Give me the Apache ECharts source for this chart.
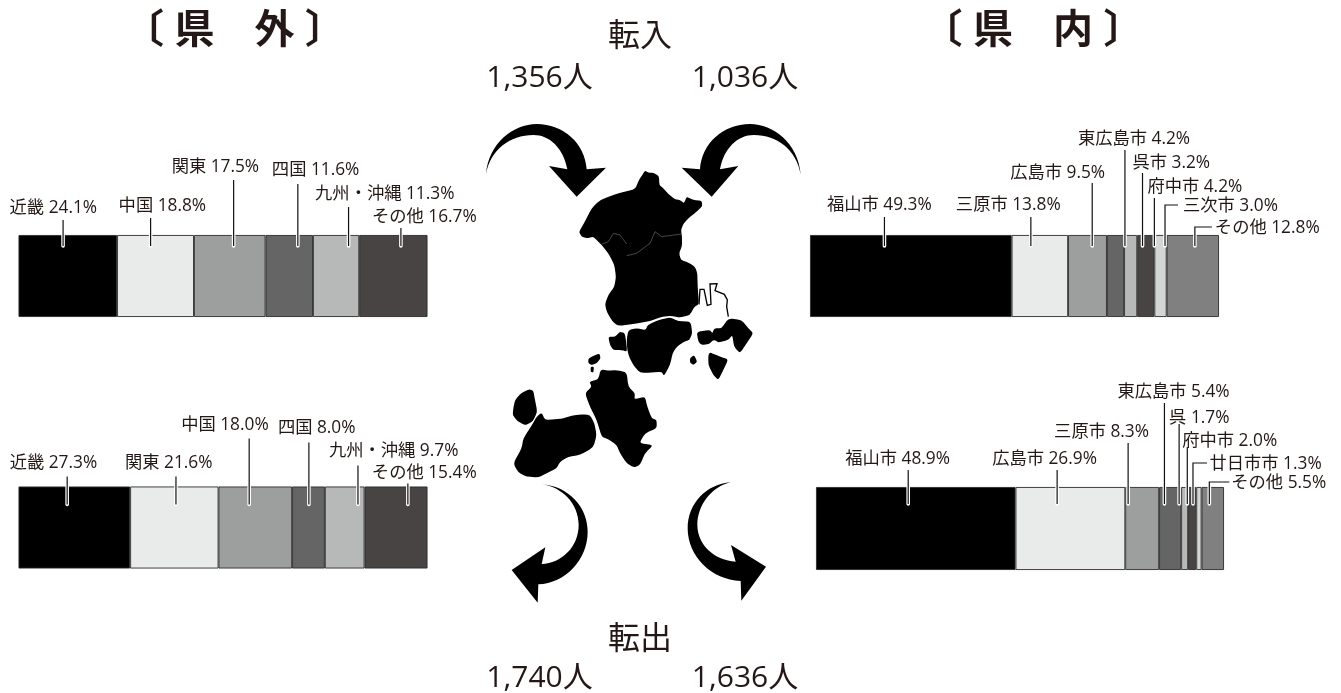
<!DOCTYPE html>
<html><head><meta charset="utf-8">
<style>html,body{margin:0;padding:0;background:#fff}#c{width:1341px;height:693px}</style>
<script src="https://cdn.jsdelivr.net/npm/echarts@6/dist/echarts.min.js"></script>
</head><body><div id="c"></div>
<script>
// ---------- data ----------
const inOutsideCats = ['近畿','中国','関東','四国','九州・沖縄','その他'];
const inOutsideVals = [24.1,18.8,17.5,11.6,11.3,16.7];
const outOutsideCats = ['近畿','関東','中国','四国','九州・沖縄','その他'];
const outOutsideVals = [27.3,21.6,18.0,8.0,9.7,15.4];
const inInsideCats = ['福山市','三原市','広島市','東広島市','呉市','府中市','三次市','その他'];
const inInsideVals = [49.3,13.8,9.5,4.2,3.2,4.2,3.0,12.8];
const outInsideCats = ['福山市','広島市','三原市','東広島市','呉','府中市','廿日市市','その他'];
const outInsideVals = [48.9,26.9,8.3,5.4,1.7,2.0,1.3,5.5];
const moveInTotals = ['1,356人','1,036人'];
const moveOutTotals = ['1,740人','1,636人'];

// ---------- layout / style (annotation placement, separate from data) ----------
const FONT = '"Open Sans","Noto Sans CJK JP",sans-serif';
const INK = '#231815';
const outsideGreys = ['#000000','#e9ebea','#9d9f9e','#656565','#b7b9b8','#474443'];
const insideGreys = ['#000000','#e9ebea','#9d9f9e','#656565','#b7b9b8','#474443','#d4d5d5','#808080'];
// at: leader position along the axis; tx: label left relative to leader;
// ty: label centre above bar top; lt: leader top above bar top; ex: elbow length
const panels = [
 {cats:inOutsideCats, vals:inOutsideVals, greys:outsideGreys, left:18.5, top:235, w:409, h:82, into:11, call:[
  {at:10.9,tx:-53.5,ty:28,lt:15},{at:32.3,tx:-32,ty:30,lt:17},{at:52.6,tx:-62,ty:69,lt:55},
  {at:68.3,tx:-26,ty:66,lt:51},{at:80.7,tx:-33.5,ty:42,lt:28},{at:93.5,tx:-29,ty:19,lt:7}]},
 {cats:outOutsideCats, vals:outOutsideVals, greys:outsideGreys, left:18.5, top:486.5, w:409, h:82, into:18, call:[
  {at:11.9,tx:-57.5,ty:24,lt:10},{at:38.5,tx:-51,ty:24,lt:10},{at:56.4,tx:-68,ty:62,lt:48},
  {at:71.0,tx:-31,ty:59,lt:44},{at:83,tx:-29,ty:36,lt:21},{at:95.2,tx:-36,ty:14,lt:3}]},
 {cats:inInsideCats, vals:inInsideVals, greys:insideGreys, left:810, top:235, w:409, h:82, into:11, call:[
  {at:18.2,tx:-57.5,ty:31,lt:18},{at:54.0,tx:-75,ty:31,lt:18},{at:69.0,tx:-82,ty:63,lt:52},
  {at:77.0,tx:-47,ty:97,lt:85},{at:81.3,tx:-10,ty:73,lt:62},{at:84.2,tx:-7,ty:49,lt:37},
  {at:86.8,ty:30,lt:30,ex:13,tx:18},{at:94.1,ty:8,lt:8,ex:17,tx:20}]},
 {cats:outInsideCats, vals:outInsideVals, greys:insideGreys, left:816, top:487, w:408, h:83, into:17, call:[
  {at:22.6,tx:-63,ty:29,lt:17},{at:59.1,tx:-65,ty:29,lt:17},{at:76.5,tx:-74,ty:56,lt:44},
  {at:85.4,tx:-47,ty:96,lt:84},{at:89.0,tx:-10,ty:70,lt:63},{at:91.0,tx:-5,ty:47,lt:40},
  {at:92.4,ty:24,lt:24,ex:14,tx:16.5},{at:96.4,ty:5,lt:5,ex:20,tx:22}]}
];

// ---------- silhouettes (decoration, zoom-crop coordinates, scale 1/3) ----------
const mapUpper = [
 [[495,152],[505,158],[520,158],[537,168],[538,195],[550,205],[565,222],[585,238],[600,240],[612,250],[620,230],[640,240],[665,242],[667,258],[650,275],[625,295],[610,312],[603,330],[606,350],[606,378],[597,400],[603,420],[625,428],[645,440],[652,460],[653,500],[657,553],[643,560],[630,585],[600,593],[570,587],[540,592],[510,603],[470,610],[415,618],[398,605],[380,575],[375,552],[385,525],[403,500],[408,470],[403,435],[388,405],[368,378],[340,350],[322,355],[305,350],[297,335],[312,310],[335,265],[360,240],[420,218],[465,208],[478,178],[490,160]],
 [[445,630],[470,625],[497,630],[503,615],[535,600],[570,592],[595,603],[632,605],[637,640],[628,660],[612,665],[590,680],[578,700],[570,735],[552,768],[545,755],[515,758],[480,758],[462,738],[448,712],[442,690],[440,660]],
 [[385,650],[405,650],[420,635],[435,640],[442,695],[425,690],[400,690],[390,675]],
 [[650,635],[690,630],[697,640],[703,625],[725,625],[745,595],[785,600],[805,625],[820,640],[800,670],[780,700],[762,680],[757,645],[745,660],[715,668],[705,660],[697,662],[688,672],[665,675],[655,665]],
 [[630,715],[642,705],[652,725],[640,735],[630,728]],
 [[685,705],[690,697],[720,710],[745,718],[730,750],[715,780],[700,765],[685,735]],
 [[325,715],[358,700],[362,715],[350,730],[335,735],[325,730]],
 [[332,740],[342,740],[340,758],[332,755]]
];
const mapLower = [
 [[362,58],[385,62],[410,60],[440,68],[445,110],[465,130],[463,148],[495,140],[502,170],[515,205],[530,210],[530,235],[495,250],[478,280],[520,285],[495,310],[480,345],[462,352],[440,340],[420,310],[410,285],[385,268],[365,260],[350,210],[330,170],[315,130],[335,110],[328,95],[355,88]],
 [[100,175],[105,150],[125,128],[148,118],[160,122],[165,150],[172,185],[158,215],[135,226],[112,213],[98,195]],
 [[158,222],[170,200],[185,188],[195,210],[225,208],[250,205],[275,197],[305,193],[330,195],[343,220],[350,255],[340,292],[300,315],[265,320],[240,335],[230,355],[200,370],[175,382],[140,380],[115,368],[100,340],[125,295],[130,265]]
];
// Lightly rounded closed outline: corners eased over 30% of each adjoining edge.
const toPath = pts => {
  const lerp=(a,b,t)=>[a[0]+(b[0]-a[0])*t,a[1]+(b[1]-a[1])*t];
  const n=pts.length; let d='';
  pts.forEach((p,i)=>{
    const a=lerp(p,pts[(i-1+n)%n],0.3), b=lerp(p,pts[(i+1)%n],0.3);
    d+=(i?'L':'M')+a.join(' ')+'Q'+p.join(' ')+' '+b.join(' ');
  });
  return d+'Z';
};
const toLine = pts => 'M' + pts.map(p => p.join(' ')).join('L');
const arrowsUpper = [
 'M18 163C25 70 100 12 170 12C250 12 315 70 320 148L378 143L290 230L207 138L262 148C250 85 210 45 160 45C90 45 30 90 18 163Z',
 'M962 163C955 70 880 12 810 12C730 12 665 70 660 148L605 143L695 230L775 138L720 148C732 85 772 45 822 45C892 45 950 90 962 163Z'
];
const arrowsLower = [
 'M188 403C265 410 323 470 323 545C323 630 255 700 175 703L173 758L95 660L196 592L185 642C245 640 296 590 296 525C296 460 245 412 188 403Z',
 'M752 397C680 402 623 460 623 535C623 620 695 690 782 693L784 752L858 650L753 585L767 635C705 632 652 585 652 525C652 465 695 410 752 397Z'
];
const innerBorders = [
 [[365,373],[385,365],[400,340],[420,345],[440,372]],
 [[440,407],[470,400],[510,370],[525,335],[545,350],[605,342]]
];
const whiteCityOutline = [[657,553],[660,508],[672,508],[682,556],[693,553],[690,492],[711,491],[705,512],[733,523],[742,540],[740,560],[745,590]];

function shape(d, fill, stroke, lw){
  return {type:'path', shape:{pathData:d}, style:{fill:fill, stroke:stroke||null, lineWidth:lw||0}};
}
function silhouettes(){
  return {type:'group', children:[
   {type:'group', x:480, y:120, scaleX:1/3, scaleY:1/3, children:[
     ...mapUpper.map(p=>shape(toPath(p),'#000')),
     ...innerBorders.map(p=>shape(toLine(p),'none','#6a6a6a',2)),
     shape(toLine(whiteCityOutline),'none','#000',4),
     ...arrowsUpper.map(d=>shape(d,'#000'))
   ]},
   {type:'group', x:480, y:350, scaleX:1/3, scaleY:1/3, children:[
     ...mapLower.map(p=>shape(toPath(p),'#000')),
     ...arrowsLower.map(d=>shape(d,'#000'))
   ]}
  ]};
}

// ---------- build ----------
const grid=[], xAxis=[], yAxis=[], series=[];
panels.forEach((p,i)=>{
  const total=p.vals.reduce((a,b)=>a+b,0);
  grid.push({left:p.left, top:p.top, width:p.w, height:p.h});
  xAxis.push({type:'value', gridIndex:i, min:0, max:total, show:false});
  yAxis.push({type:'category', gridIndex:i, data:['share'], show:false});
  p.vals.forEach((v,j)=>series.push({
    type:'bar', xAxisIndex:i, yAxisIndex:i, stack:'s'+i, name:p.cats[j], data:[v],
    barWidth:'100%', silent:true,
    itemStyle:{color:p.greys[j], borderColor:'#2b2b2b', borderWidth:0.9}
  }));
  series.push({
    type:'custom', xAxisIndex:i, yAxisIndex:i, silent:true, z:10, clip:false,
    encode:{x:0,y:1},
    data:p.call.map(c=>[c.at,0]),
    renderItem(params,api){
      const c=p.call[params.dataIndex];
      const x=api.coord([api.value(0),0])[0];
      const top=params.coordSys.y;
      const bot=top+p.into;
      const label=p.cats[params.dataIndex]+' '+p.vals[params.dataIndex].toFixed(1)+'%';
      const kids=[
       {type:'line',shape:{x1:x,y1:top,x2:x,y2:bot},style:{stroke:'#fff',lineWidth:3.6,lineCap:'round'}}
      ];
      if(c.ex){
        kids.push({type:'polyline',shape:{points:[[x,bot],[x,top-c.lt],[x+c.ex,top-c.lt]]},style:{fill:'none',stroke:'#111',lineWidth:1.2}});
      } else {
        kids.push({type:'line',shape:{x1:x,y1:top-c.lt,x2:x,y2:bot},style:{stroke:'#111',lineWidth:1.2}});
      }
      kids.push({type:'text',style:{text:label,x:x+c.tx,y:top-c.ty+1,fill:INK,font:'17.3px '+FONT,textAlign:'left',textVerticalAlign:'middle'}});
      return {type:'group',children:kids};
    }
  });
});
series.push({
  type:'custom', coordinateSystem:'none', silent:true, z:5, clip:false, data:[0],
  renderItem(){ return silhouettes(); }
});
function bigText(t,x,y,size,weight){
  return {type:'text', x:x, y:y, silent:true, style:{text:t, fill:INK, font:(weight||'normal')+' '+size+'px '+FONT, textAlign:'center', textVerticalAlign:'middle'}};
}
const option={
  backgroundColor:'#fff', animation:false, tooltip:{show:false}, legend:{show:false},
  grid, xAxis, yAxis, series,
  graphic:{elements:[
    bigText('〔 県　外 〕',234.5,32,40,'bold'),
    bigText('〔 県　内 〕',1033,32,40,'bold'),
    bigText('転入',640,37,32),
    bigText(moveInTotals[0],539.5,78,30),
    bigText(moveInTotals[1],745,78,30),
    bigText('転出',640,640,32),
    bigText(moveOutTotals[0],539.5,678,30),
    bigText(moveOutTotals[1],745,678,30)
  ]}
};
echarts.init(document.getElementById('c')).setOption(option);
</script></body></html>
